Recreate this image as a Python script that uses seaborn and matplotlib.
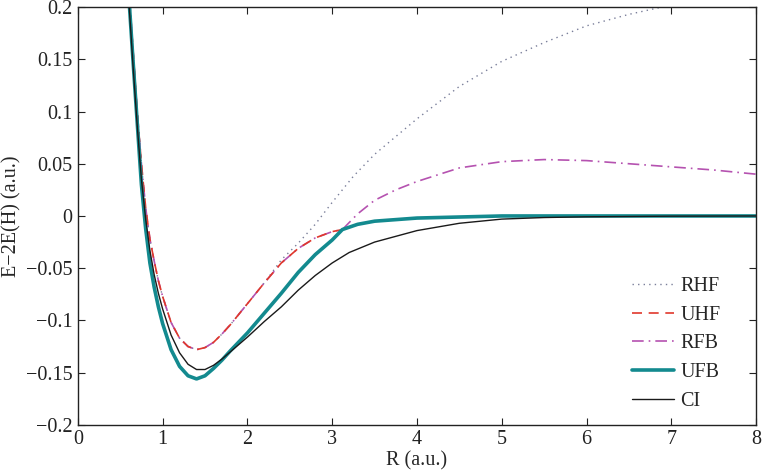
import numpy as np
import pandas as pd
import matplotlib
matplotlib.use("Agg")
import matplotlib.pyplot as plt
from matplotlib import font_manager
import seaborn as sns

# bond length R (a.u.) and energies E - 2E(H) (a.u.)
r_left = [0.55, 0.6, 0.65, 0.7, 0.75, 0.8, 0.85, 0.9, 0.95, 1.0, 1.1, 1.2, 1.3, 1.4,
          1.5, 1.6, 1.7, 1.8, 2.0, 2.2]
uhf_left = [0.29, 0.22, 0.16, 0.10, 0.05, 0.008, -0.022, -0.043, -0.062, -0.077,
            -0.102, -0.117, -0.125, -0.128, -0.126, -0.121, -0.113, -0.104, -0.084, -0.064]

r_rhf_tail = [2.4, 2.6, 2.8, 3.0, 3.25, 3.5, 3.75, 4.0, 4.5, 5.0, 5.5, 6.0, 6.5, 7.0, 7.5, 8.0]
rhf_tail = [-0.042, -0.026, -0.008, 0.013, 0.038, 0.059, 0.076, 0.093, 0.124, 0.148,
            0.166, 0.182, 0.193, 0.202, 0.209, 0.215]

r_uhf_mid = [2.4, 2.6, 2.8, 3.0, 3.12]
uhf_mid = [-0.045, -0.031, -0.021, -0.015, -0.013]

r_ufb = [0.55, 0.6, 0.65, 0.7, 0.75, 0.8, 0.85, 0.9, 0.95, 1.0, 1.1, 1.2, 1.3, 1.4,
         1.5, 1.6, 1.7, 1.8, 2.0, 2.2, 2.4, 2.6, 2.8, 3.0, 3.12, 3.3, 3.5, 4.0, 4.5,
         5.0, 6.0, 7.0, 8.0]
ufb = [0.28, 0.212, 0.15, 0.09, 0.03, -0.012, -0.045, -0.068, -0.087, -0.103, -0.128,
       -0.144, -0.153, -0.156, -0.153, -0.146, -0.138, -0.129, -0.112, -0.093, -0.074,
       -0.054, -0.037, -0.023, -0.013, -0.008, -0.005, -0.002, -0.001, 0.0, 0.0, 0.0, 0.0]

r_rfb_tail = [3.3, 3.5, 3.75, 4.0, 4.5, 5.0, 5.5, 6.0, 6.5, 7.0, 7.5, 8.0]
rfb_tail = [0.002, 0.015, 0.025, 0.033, 0.046, 0.052, 0.054, 0.053, 0.050, 0.047, 0.044, 0.040]

r_ci = [0.55, 0.6, 0.65, 0.7, 0.75, 0.8, 0.85, 0.9, 0.95, 1.0, 1.1, 1.2, 1.3, 1.4,
        1.5, 1.6, 1.7, 1.8, 2.0, 2.2, 2.4, 2.6, 2.8, 3.0, 3.2, 3.5, 4.0, 4.5, 5.0,
        5.5, 6.0, 7.0, 8.0]
ci = [0.28, 0.208, 0.145, 0.087, 0.035, -0.003, -0.033, -0.056, -0.074, -0.089,
      -0.114, -0.131, -0.142, -0.147, -0.147, -0.143, -0.137, -0.130, -0.116, -0.101,
      -0.087, -0.071, -0.057, -0.045, -0.035, -0.025, -0.014, -0.007, -0.003, -0.0015,
      -0.0008, -0.0002, 0.0]

# build the full curves from the shared pieces
r_rhf = r_left + r_rhf_tail
rhf = uhf_left + rhf_tail
r_uhf = r_left + r_uhf_mid + [3.3, 3.5, 4.0, 4.5, 5.0, 6.0, 7.0, 8.0]
uhf = uhf_left + uhf_mid + ufb[-8:]
r_rfb = r_left + r_uhf_mid + r_rfb_tail
rfb = uhf_left + uhf_mid + rfb_tail

sns.set_style("ticks")
installed = {f.name for f in font_manager.fontManager.ttflist}
serif = [f for f in ['Liberation Serif', 'Times New Roman', 'Nimbus Roman', 'DejaVu Serif']
         if f in installed]
plt.rcParams['font.family'] = serif + ['DejaVu Sans']

FS = 14.5
fig = plt.figure(figsize=(7.63, 4.70), dpi=100)
ax = fig.add_axes([0.102, 0.096, 0.889, 0.889])

sns.lineplot(x=r_rhf, y=rhf, ax=ax, color='#7a7f9a', lw=1.0, linestyle=(0, (1, 3)),
             label='RHF', sort=False, zorder=2)
sns.lineplot(x=r_uhf, y=uhf, ax=ax, color='#e0382c', lw=1.2, linestyle=(0, (6, 4)),
             label='UHF', sort=False, zorder=2.2)
sns.lineplot(x=r_rfb, y=rfb, ax=ax, color='#b552b0', lw=1.2, linestyle=(0, (7, 3, 1, 3)),
             label='RFB', sort=False, zorder=2.1)
sns.lineplot(x=r_ufb, y=ufb, ax=ax, color='#138a8f', lw=2.6, label='UFB', sort=False,
             zorder=2.3)
sns.lineplot(x=r_ci, y=ci, ax=ax, color='#1a1a1a', lw=1.0, label='CI', sort=False,
             zorder=2.4)

ax.set_xlim(0, 8)
ax.set_ylim(-0.2, 0.2)
ax.set_xticks(range(0, 9))
ax.set_yticks([-0.2, -0.15, -0.1, -0.05, 0, 0.05, 0.1, 0.15, 0.2])
ax.set_yticklabels(['\u22120.2', '\u22120.15', '\u22120.1', '\u22120.05', '0',
                    '0.05', '0.1', '0.15', '0.2'])
ax.tick_params(direction='in', top=True, right=True, length=5, width=0.8,
               labelsize=FS, colors='#222222', pad=4)
for s in ax.spines.values():
    s.set_visible(True)
    s.set_linewidth(1.0)
    s.set_color('#222222')

ax.set_xlabel('R (a.u.)', fontsize=FS, labelpad=1)
ax.set_ylabel('E\u22122E(H) (a.u.)', fontsize=FS, labelpad=3)

ax.legend(loc='lower right', frameon=False, fontsize=FS, handlelength=2.1,
          handletextpad=0.3, labelspacing=0.48, borderpad=0.4,
          bbox_to_anchor=(0.974, -0.01))

fig.savefig('out.png', dpi=100)
